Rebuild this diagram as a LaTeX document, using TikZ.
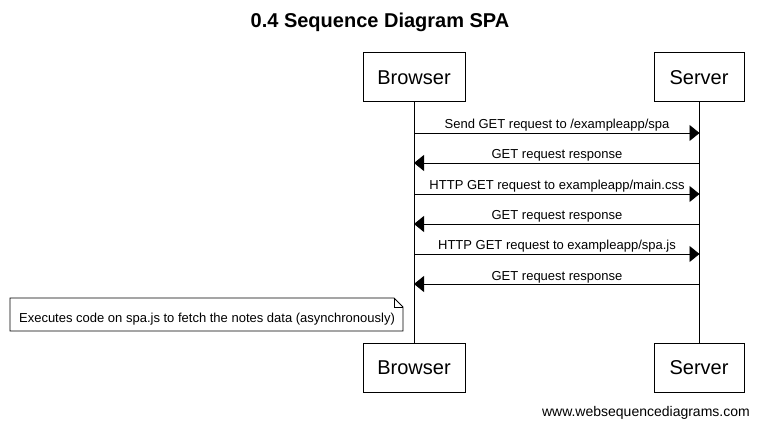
\documentclass[tikz,border=0pt]{standalone}
\usepackage{fontspec}
\setmainfont{Liberation Sans}
\usetikzlibrary{arrows.meta}
\begin{document}
\begin{tikzpicture}[x=1pt,y=-1pt,
  actor/.style={draw,line width=1pt,fill=white,minimum width=102pt,minimum height=49pt,inner sep=0pt,font=\fontsize{20}{24}\selectfont},
  actorS/.style={actor,minimum width=90pt},
  msg/.style={line width=0.8pt,-{Triangle[length=10pt,width=16pt]}},
  lbl/.style={font=\fontsize{13}{15}\selectfont,anchor=base,inner sep=0pt},
  life/.style={line width=1pt}]
\useasboundingbox (0,0) rectangle (759,427);
\node[font=\bfseries\fontsize{20}{24}\selectfont] (title) at (380,22) {0.4 Sequence Diagram SPA};
% actors
\node[actor] (bt) at (414,77.5) {Browser};
\node[actorS] (st) at (699,77.5) {Server};
\node[actor] (bb) at (414,367.5) {Browser};
\node[actorS] (sb) at (699,367.5) {Server};
\draw[life] (bt.south) -- (bb.north);
\draw[life] (st.south) -- (sb.north);
% message coordinates
\foreach \i/\y in {1/133,2/163,3/194,4/224,5/254,6/284}{
  \coordinate (b\i) at (414,\y);
  \coordinate (s\i) at (699.5,\y);
}
\draw[msg] (b1) -- (s1);
\node[lbl] (m1) at (557,129) {Send GET request to /exampleapp/spa};
\draw[msg] (s2) -- (b2);
\node[lbl] (m2) at (557,159) {GET request response};
\draw[msg] (b3) -- (s3);
\node[lbl] (m3) at (557,190) {HTTP GET request to exampleapp/main.css};
\draw[msg] (s4) -- (b4);
\node[lbl] (m4) at (557,220) {GET request response};
\draw[msg] (b5) -- (s5);
\node[lbl] (m5) at (557,250) {HTTP GET request to exampleapp/spa.js};
\draw[msg] (s6) -- (b6);
\node[lbl] (m6) at (557,280) {GET request response};
% note
\draw[line width=0.8pt,fill=white] (10,298) -- (394,298) -- (403,307) -- (403,331) -- (10,331) -- cycle;
\draw[line width=0.6pt] (394,298) -- (394,307) -- (403,307);
\node[lbl] (note) at (207,322) {Executes code on spa.js to fetch the notes data (asynchronously)};
% footer
\node[font=\fontsize{14}{16}\selectfont,anchor=base east,inner sep=0pt] (footer) at (750,416) {www.websequencediagrams.com};
\end{tikzpicture}
\end{document}
